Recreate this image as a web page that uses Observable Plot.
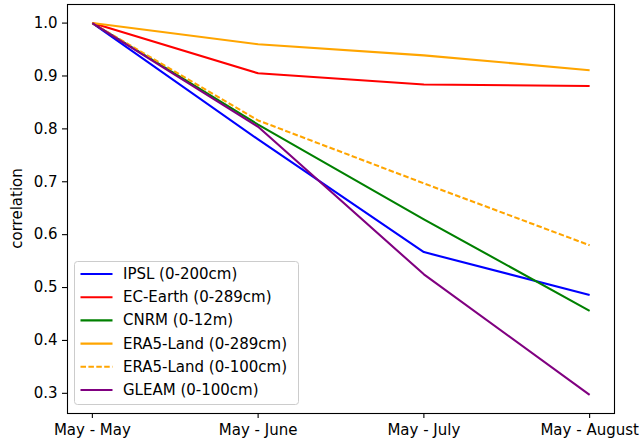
<!DOCTYPE html>
<html><head><meta charset="utf-8">
<script src="https://cdn.jsdelivr.net/npm/d3@7"></script>
<script src="https://cdn.jsdelivr.net/npm/@observablehq/plot@0.6"></script>
<style>
html,body{margin:0;padding:0;background:#fff;}
#chart{position:relative;width:640px;height:439px;}
</style></head><body><div id="chart"></div>
<script>
// ---- data ----
const categories = ["May - May", "May - June", "May - July", "May - August"];
const seriesNames = ["IPSL (0-200cm)", "EC-Earth (0-289cm)", "CNRM (0-12m)", "ERA5-Land (0-289cm)", "ERA5-Land (0-100cm)", "GLEAM (0-100cm)"];
const ipsl      = [1.0, 0.780, 0.567, 0.486];
const ecEarth   = [1.0, 0.905, 0.884, 0.881];
const cnrm      = [1.0, 0.808, 0.629, 0.456];
const era5_289  = [1.0, 0.960, 0.939, 0.911];
const era5_100  = [1.0, 0.816, 0.697, 0.580];
const gleam     = [1.0, 0.804, 0.525, 0.297];
const yTicks    = [0.3, 0.4, 0.5, 0.6, 0.7, 0.8, 0.9, 1.0];

// ---- styles ----
const colors = ["blue", "red", "green", "orange", "orange", "purple"];
const dashes = [null, null, null, null, "5.5,2.4", null];
const allValues = [ipsl, ecEarth, cnrm, era5_289, era5_100, gleam];

const rows = allValues.flatMap((vals, s) => vals.map((v, i) => ({series: seriesNames[s], i, v})));
const [ymin, ymax] = d3.extent(rows, d => d.v);
const ypad = (ymax - ymin) * 0.05;
const xpad = (categories.length - 1) * 0.05;

const W = 640, H = 439;
const mL = 67, mR = 26, mT = 4, mB = 26;
const font = "'DejaVu Sans', sans-serif";
const fs = 15;

const lineMarks = seriesNames.map((name, s) =>
  Plot.line(rows.filter(d => d.series === name), {
    x: "i", y: "v", stroke: colors[s], strokeWidth: 2.08,
    strokeDasharray: dashes[s] || undefined, strokeLinecap: "butt", strokeLinejoin: "round"
  })
);

const chart = Plot.plot({
  width: W, height: H,
  marginLeft: mL, marginRight: mR, marginTop: mT, marginBottom: mB,
  style: {fontFamily: font, fontSize: fs + "px", color: "black", background: "white"},
  x: {type: "linear", domain: [-xpad, categories.length - 1 + xpad]},
  y: {domain: [ymin - ypad, ymax + ypad]},
  marks: [
    ...lineMarks,
    Plot.frame({stroke: "black", strokeWidth: 1.1}),
    Plot.axisX({ticks: categories.map((c, i) => i), tickFormat: i => categories[i],
      tickSize: 5, tickPadding: 6, fontSize: fs, label: null, stroke: "black", strokeWidth: 1.1}),
    Plot.axisY({ticks: yTicks, tickFormat: d3.format(".1f"),
      tickSize: 5, tickPadding: 5, fontSize: fs, label: null, stroke: "black", strokeWidth: 1.1})
  ]
});
document.getElementById("chart").appendChild(chart);

const svg = d3.select(chart);
// y label
svg.append("text")
  .attr("transform", `translate(17,${(mT + H - mB) / 2}) rotate(-90)`)
  .attr("text-anchor", "middle").attr("dominant-baseline", "central")
  .attr("font-family", font).attr("font-size", fs).attr("fill", "black")
  .text("correlation");

// legend
const lg = svg.append("g").attr("transform", "translate(74.5,261.5)");
lg.append("rect").attr("width", 224).attr("height", 143).attr("rx", 3)
  .attr("fill", "white").attr("fill-opacity", 0.8).attr("stroke", "#cccccc").attr("stroke-width", 1);
seriesNames.forEach((name, s) => {
  const y = 12.5 + s * 23.2;
  lg.append("line").attr("x1", 6).attr("x2", 38).attr("y1", y).attr("y2", y)
    .attr("stroke", colors[s]).attr("stroke-width", 2.08)
    .attr("stroke-dasharray", dashes[s] || null);
  lg.append("text").attr("x", 48.5).attr("y", y).attr("dominant-baseline", "central")
    .attr("text-anchor", "start")
    .attr("font-family", font).attr("font-size", fs).attr("fill", "black").text(name);
});
</script></body></html>
